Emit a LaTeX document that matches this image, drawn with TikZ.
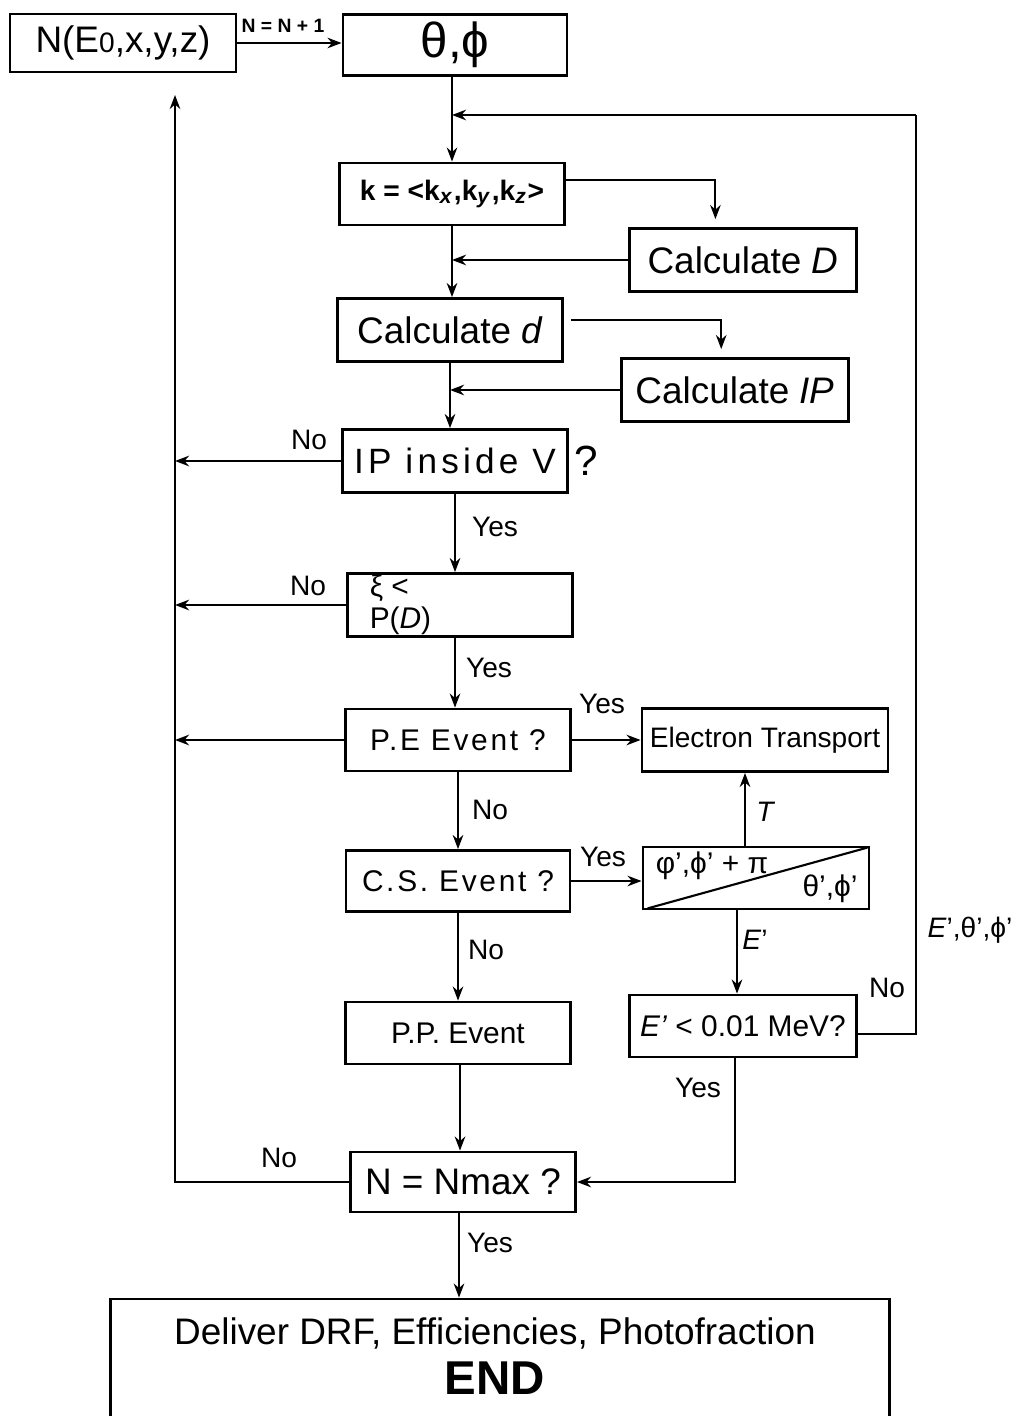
\documentclass[tikz,border=0pt]{standalone}
\usepackage{fontspec}
\setmainfont{Liberation Sans}
\usetikzlibrary{arrows.meta,calc}

\newcommand{\fsize}[2]{\fontsize{#1}{#2}\selectfont}

\begin{document}
\begin{tikzpicture}[x=0.01cm,y=-0.01cm,
    box/.style={draw,line width=0.8pt,minimum width=2.25cm,minimum height=0.62cm,inner sep=0pt},
    line/.style={line width=0.6pt},
    arr/.style={line width=0.6pt,-{Stealth[length=4pt,width=3pt]}},
    lbl/.style={font=\fsize{8pt}{9pt},inner sep=1pt},
    spaced/.style={font=\fsize{8.5pt}{10pt}\addfontfeature{LetterSpace=9}}]
  \useasboundingbox (0,0) rectangle (1015,1416);
  \clip (0,0) rectangle (1015,1416);

  % start and direction
  \node[box,minimum width=2.26cm,minimum height=0.58cm,font=\fsize{10.5pt}{12pt}] (start) at (123,43) {N(E{\fsize{8pt}{9pt}0},x,y,z)};
  \node[box,minimum width=2.24cm,minimum height=0.61cm,font=\fsize{14pt}{16pt}] (angles) at (455,45) {θ,ϕ};
  \draw[arr] (start.east) -- (start.east -| angles.west);
  \node[font=\bfseries\fsize{5.5pt}{6pt},inner sep=0pt] (inc) at (283,26) {N = N + 1};

  % direction vector and distances
  \node[box,font=\bfseries\fsize{8pt}{9pt}] (kvec) at (452,194) {k = <k\textsubscript{\textit{x}},k\textsubscript{\textit{y}},k\textsubscript{\textit{z}}>};
  \node[box,minimum width=2.27cm,minimum height=0.63cm,font=\fsize{10.5pt}{12pt}] (calcD) at (743,260) {Calculate \textit{D}};
  \node[box,minimum height=0.63cm,font=\fsize{10.5pt}{12pt}] (calcd) at (450,330) {Calculate \textit{d}};
  \node[box,minimum width=2.27cm,minimum height=0.63cm,font=\fsize{10.5pt}{12pt}] (calcIP) at (735,390) {Calculate \textit{IP}};

  \coordinate (loopL) at (452,115);
  \coordinate (loopR) at (916,115);
  \coordinate (kR) at ($(kvec.north east)!0.28!(kvec.south east)$);
  \coordinate (kD) at ($(calcD.north west)!0.38!(calcD.north east)$);
  \coordinate (dR) at ([xshift=0.07cm]$(calcd.north east)!0.35!(calcd.south east)$);
  \coordinate (dIP) at ($(calcIP.north west)!0.44!(calcIP.north east)$);
  \draw[arr] (kvec.north |- angles.south) -- (kvec.north);
  \draw[arr,shorten >=0.08cm] (kR) -| (kD);
  \draw[arr] (calcD.west) -- (calcD.west -| kvec.south);
  \draw[arr] (kvec.south) -- (kvec.south |- calcd.north);
  \draw[arr,shorten >=0.08cm] (dR) -| (dIP);
  \draw[arr] (calcIP.west) -- (calcIP.west -| calcd.south);

  % tests
  \node[box,minimum height=0.63cm,font=\fsize{10pt}{12pt}\addfontfeature{LetterSpace=12}] (inside) at (455,461) {IP inside V};
  \node[font=\fsize{12pt}{14pt},anchor=west,inner sep=0pt] (qmark) at (574,461) {?};
  \draw[arr] (calcd.south) -- (calcd.south |- inside.north);
  \node[box,minimum height=0.63cm] (xi) at (460,605) {};
  \node[font=\fsize{8.5pt}{9pt},align=left,anchor=west,inner sep=0pt] (xitxt) at ([xshift=0.23cm]xi.west) {ξ <\\P(\textit{D})};
  \node[box,spaced] (pe) at (458,740) {P.E Event ?};
  \node[box,minimum width=2.46cm,minimum height=0.63cm,font=\fsize{8pt}{10pt}] (et) at (765,740) {Electron Transport};
  \node[box,minimum width=2.24cm,minimum height=0.61cm,spaced] (cs) at (458,881) {C.S. Event ?};
  \node[box,minimum width=2.26cm,minimum height=0.62cm] (split) at (756,878) {};
  \draw[line] ([xshift=0.06cm,yshift=0.02cm]split.south west) -- ([xshift=-0.03cm,yshift=-0.02cm]split.north east);
  \node[font=\fsize{8.5pt}{10pt},inner sep=0pt] (scat) at (712,866) {φ',ϕ' + π};
  \node[font=\fsize{8.5pt}{10pt},inner sep=0pt] (newdir) at (830,889) {θ',ϕ'};
  \node[box,font=\fsize{8.5pt}{10pt}] (pp) at (458,1033) {P.P. Event};
  \node[box,minimum width=2.27cm,minimum height=0.62cm,font=\fsize{8.5pt}{10pt}] (ecut) at (743,1026) {\textit{E'} < 0.01 MeV?};
  \node[box,minimum height=0.6cm,font=\fsize{10.5pt}{12pt}] (nmax) at (463,1182) {N = Nmax ?};
  \node[box,minimum width=7.79cm,minimum height=1.22cm,align=center,font=\fsize{10.5pt}{12pt}] (final) at (500,1360) {};
  \node[font=\fsize{10.5pt}{12pt},inner sep=0pt] (deliver) at (495,1333) {Deliver DRF, Efficiencies, Photofraction};
  \node[font=\bfseries\fsize{13.5pt}{15pt},inner sep=0pt] (endtxt) at (495,1378) {END};

  % back to the next photon
  \coordinate (railB) at (175,1182);
  \coordinate (railT) at (175,95);
  \draw[arr] (nmax.west) -- (railB) -- (railT);
  \draw[arr] (inside.west) -- (inside.west -| railB);
  \draw[arr] (xi.west) -- (xi.west -| railB);
  \draw[arr] (pe.west) -- (pe.west -| railB);
  \node[lbl] (no1) at (309,440) {No};
  \node[lbl] (no2) at (308,586) {No};
  \node[lbl] (no3) at (279,1158) {No};

  % main line
  \draw[arr] (inside.south) -- (inside.south |- xi.north);
  \node[lbl] (yes1) at (495,527) {Yes};
  \draw[arr] (inside.south |- xi.south) -- (inside.south |- pe.north);
  \node[lbl] (yes2) at (489,668) {Yes};
  \draw[arr] (pe.east) -- (et.west);
  \node[lbl] (yes3) at (602,704) {Yes};
  \draw[arr] (pe.south) -- (cs.north);
  \node[lbl] (no4) at (490,810) {No};
  \draw[arr] (cs.east) -- (cs.east -| split.west);
  \node[lbl] (yes4) at (603,857) {Yes};
  \draw[arr] (cs.south) -- (pp.north);
  \node[lbl] (no5) at (486,950) {No};
  \draw[arr] ([xshift=0.02cm]pp.south) -- ([xshift=0.02cm]pp.south |- nmax.north);
  \draw[arr] ([xshift=-0.04cm]nmax.south) -- ([xshift=-0.04cm]nmax.south |- final.north);
  \node[lbl] (yes5) at (490,1243) {Yes};

  % compton branch
  \draw[arr] ([xshift=-0.11cm]split.north) -- ([xshift=-0.11cm]split.north |- et.south);
  \node[lbl,font=\itshape\fsize{8pt}{9pt}] (tlbl) at (765,812) {T};
  \draw[arr] ([xshift=-0.19cm]split.south) -- ([xshift=-0.19cm]split.south |- ecut.north);
  \node[lbl,font=\fsize{8pt}{9pt}] (elbl) at (755,940) {\textit{E}'};
  \draw[arr] ([xshift=-0.08cm]ecut.south) |- (nmax.east);
  \node[lbl] (yes6) at (698,1088) {Yes};
  \draw[line] ([yshift=-0.08cm]ecut.east) -| (loopR);
  \draw[arr] (loopR) -- (loopL);
  \node[lbl] (no6) at (887,988) {No};
  \node[lbl,font=\fsize{8pt}{9pt}] (newlbl) at (970,930) {\textit{E}',θ',ϕ'};
\end{tikzpicture}
\end{document}
